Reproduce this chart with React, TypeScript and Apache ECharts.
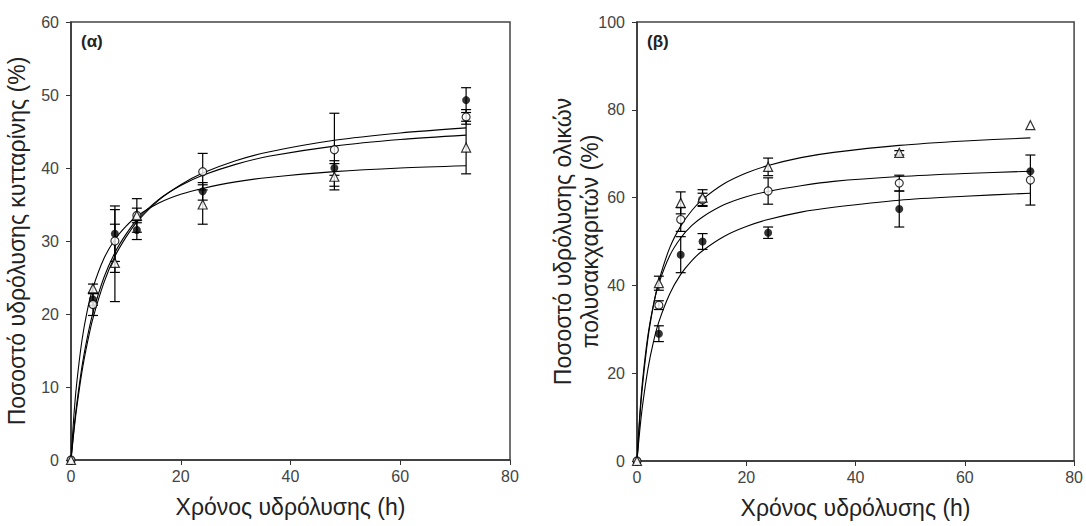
import React, { useEffect, useRef } from "react";
import * as echarts from "echarts";

const times = [0, 4, 8, 12, 24, 48, 72];

const alphaFilled = [0, 22, 31, 31.5, 36.8, 40, 49.3];
const alphaFilledErr = [0, 0.8, 3.8, 1.3, 1.2, 1.0, 1.7];
const alphaOpenCircle = [0, 21.3, 30, 33.5, 39.5, 42.5, 47];
const alphaOpenCircleErr = [0, 1.5, 4.3, 2.3, 2.5, 5.0, 1.0];
const alphaTriangle = [0, 23.5, 27, 33.5, 35, 38.8, 42.8];
const alphaTriangleErr = [0, 0.6, 5.3, 1.0, 2.7, 1.8, 3.6];

const betaFilled = [0, 29, 47, 50, 52, 57.4, 66];
const betaFilledErr = [0, 1.8, 4.1, 1.8, 1.3, 4.1, 0];
const betaOpenCircle = [0, 35.5, 55, 59.5, 61.5, 63.3, 64];
const betaOpenCircleErr = [0, 1, 2.7, 1.5, 3, 1.8, 5.7];
const betaTriangle = [0, 40.5, 58.8, 60, 67, 70.2, 76.5];
const betaTriangleErr = [0, 1.6, 2.5, 1.8, 2, 0.5, 0];

const curveTimes = [0, 0.5, 1, 2, 3, 4, 6, 8, 10, 12, 16, 20, 24, 30, 36, 48, 60, 72];
const alphaCurveA = [0, 3.7, 6.9, 12.1, 16.1, 19.4, 24.3, 27.9, 30.5, 32.6, 35.6, 37.7, 39.3, 41.0, 42.2, 43.8, 44.8, 45.5];
const alphaCurveB = [0, 4.0, 7.4, 12.8, 16.9, 20.2, 25.0, 28.4, 30.9, 32.9, 35.7, 37.6, 39.0, 40.5, 41.6, 43.0, 43.9, 44.5];
const alphaCurveC = [0, 5.8, 10.2, 16.4, 20.6, 23.6, 27.6, 30.2, 32.0, 33.4, 35.2, 36.4, 37.2, 38.1, 38.7, 39.5, 40.0, 40.3];
const betaCurveTop = [0, 9.6, 17.0, 27.9, 35.4, 41.0, 48.6, 53.5, 57.0, 59.6, 63.2, 65.6, 67.3, 69.1, 70.3, 71.9, 72.9, 73.6];
const betaCurveMid = [0, 10.4, 18.1, 28.6, 35.5, 40.4, 46.8, 50.8, 53.6, 55.6, 58.4, 60.2, 61.4, 62.7, 63.7, 64.8, 65.5, 66.0];
const betaCurveLow = [0, 6.9, 12.5, 21.0, 27.1, 31.7, 38.1, 42.5, 45.6, 47.9, 51.2, 53.4, 55.0, 56.7, 57.8, 59.4, 60.3, 61.0];

const xTitle = "Χρόνος υδρόλυσης (h)";
const yTitleAlpha = "Ποσοστό υδρόλυσης κυτταρίνης (%)";
const yTitleBeta = "Ποσοστό υδρόλυσης ολικών\nπολυσακχαριτών (%)";
const panelAlpha = "(α)";
const panelBeta = "(β)";

const FONT = "Liberation Sans, Arial, sans-serif";

function pairs(xs: number[], ys: number[]) {
  return xs.map((x, i) => [x, ys[i]]);
}
function triples(xs: number[], ys: number[], es: number[]) {
  return xs.map((x, i) => [x, ys[i], es[i]]);
}

function errSeries(data: number[][], idx: number) {
  return {
    type: "custom",
    xAxisIndex: idx,
    yAxisIndex: idx,
    z: 3,
    data,
    renderItem: (params: any, api: any) => {
      const x = api.value(0);
      const y = api.value(1);
      const e = api.value(2);
      if (!e) return { type: "group", children: [] };
      const top = api.coord([x, y + e]);
      const bot = api.coord([x, y - e]);
      const hw = 5;
      const st = { stroke: "#000", lineWidth: 1.2 };
      return {
        type: "group",
        children: [
          { type: "line", shape: { x1: top[0], y1: top[1], x2: bot[0], y2: bot[1] }, style: st },
          { type: "line", shape: { x1: top[0] - hw, y1: top[1], x2: top[0] + hw, y2: top[1] }, style: st },
          { type: "line", shape: { x1: bot[0] - hw, y1: bot[1], x2: bot[0] + hw, y2: bot[1] }, style: st },
        ],
      };
    },
  };
}

function curveSeries(ys: number[], idx: number) {
  return {
    type: "line",
    xAxisIndex: idx,
    yAxisIndex: idx,
    data: pairs(curveTimes, ys),
    showSymbol: false,
    symbol: "none",
    smooth: 0.3,
    z: 2,
    lineStyle: { color: "#000", width: 1.1 },
  };
}

function markerSeries(ys: number[], idx: number, kind: string) {
  const base: any = {
    type: "scatter",
    xAxisIndex: idx,
    yAxisIndex: idx,
    data: pairs(times, ys),
    z: 4,
    symbolSize: 8,
  };
  if (kind === "filled") {
    base.symbol = "circle";
    base.itemStyle = { color: "#000" };
  } else if (kind === "circle") {
    base.symbol = "circle";
    base.itemStyle = { color: "#fff", borderColor: "#000", borderWidth: 1.2 };
  } else {
    base.symbol = "triangle";
    base.symbolSize = 9;
    base.itemStyle = { color: "#fff", borderColor: "#000", borderWidth: 1.2 };
  }
  return base;
}

function xAxisCfg(idx: number) {
  return {
    type: "value",
    gridIndex: idx,
    min: 0,
    max: 80,
    interval: 20,
    name: xTitle,
    nameLocation: "middle",
    nameGap: 35,
    nameTextStyle: { fontSize: 23, color: "#222", fontFamily: FONT },
    axisLine: { show: true, lineStyle: { color: "#333", width: 1.5 } },
    axisTick: { show: true, inside: false, length: 5, lineStyle: { color: "#333" } },
    axisLabel: { fontSize: 16, color: "#444", fontFamily: FONT, margin: 8 },
    splitLine: { show: false },
  };
}

function yAxisCfg(idx: number, max: number, interval: number, name: string, gap: number, lh: number) {
  return {
    type: "value",
    gridIndex: idx,
    min: 0,
    max,
    interval,
    name,
    nameLocation: "middle",
    nameRotate: 90,
    nameGap: gap,
    nameMoveOverlap: false,
    nameTextStyle: { fontSize: 23, color: "#222", fontFamily: FONT, lineHeight: lh },
    axisLine: { show: true, lineStyle: { color: "#333", width: 1.5 } },
    axisTick: { show: true, inside: false, length: 5, lineStyle: { color: "#333" } },
    axisLabel: { fontSize: 16, color: "#444", fontFamily: FONT, margin: 12 },
    splitLine: { show: false },
  };
}

export default function App() {
  const ref = useRef<HTMLDivElement>(null);
  useEffect(() => {
    document.body.style.margin = "0";
    const chart = echarts.init(ref.current!, undefined, { renderer: "svg" });
    chart.setOption({
      animation: false,
      backgroundColor: "#fff",
      grid: [
        { left: 71, top: 22, width: 439, height: 438, show: true, borderColor: "#444", borderWidth: 1.5, backgroundColor: "#fff" },
        { left: 637, top: 22, width: 439, height: 439, show: true, borderColor: "#444", borderWidth: 1.5, backgroundColor: "#fff" },
      ],
      xAxis: [xAxisCfg(0), xAxisCfg(1)],
      yAxis: [
        yAxisCfg(0, 60, 10, yTitleAlpha, 41, 26),
        yAxisCfg(1, 100, 20, yTitleBeta, 34, 27),
      ],
      graphic: [
        { type: "text", left: 81, top: 33, style: { text: panelAlpha, fontSize: 17, fontWeight: "bold", fill: "#222", fontFamily: FONT } },
        { type: "text", left: 647, top: 33, style: { text: panelBeta, fontSize: 17, fontWeight: "bold", fill: "#222", fontFamily: FONT } },
      ],
      series: [
        curveSeries(alphaCurveA, 0),
        curveSeries(alphaCurveB, 0),
        curveSeries(alphaCurveC, 0),
        errSeries(triples(times, alphaFilled, alphaFilledErr), 0),
        errSeries(triples(times, alphaOpenCircle, alphaOpenCircleErr), 0),
        errSeries(triples(times, alphaTriangle, alphaTriangleErr), 0),
        markerSeries(alphaFilled, 0, "filled"),
        markerSeries(alphaOpenCircle, 0, "circle"),
        markerSeries(alphaTriangle, 0, "triangle"),
        curveSeries(betaCurveTop, 1),
        curveSeries(betaCurveMid, 1),
        curveSeries(betaCurveLow, 1),
        errSeries(triples(times, betaFilled, betaFilledErr), 1),
        errSeries(triples(times, betaOpenCircle, betaOpenCircleErr), 1),
        errSeries(triples(times, betaTriangle, betaTriangleErr), 1),
        markerSeries(betaFilled, 1, "filled"),
        markerSeries(betaOpenCircle, 1, "circle"),
        markerSeries(betaTriangle, 1, "triangle"),
      ],
    });
    return () => chart.dispose();
  }, []);
  return <div ref={ref} style={{ width: 1086, height: 526 }} />;
}
